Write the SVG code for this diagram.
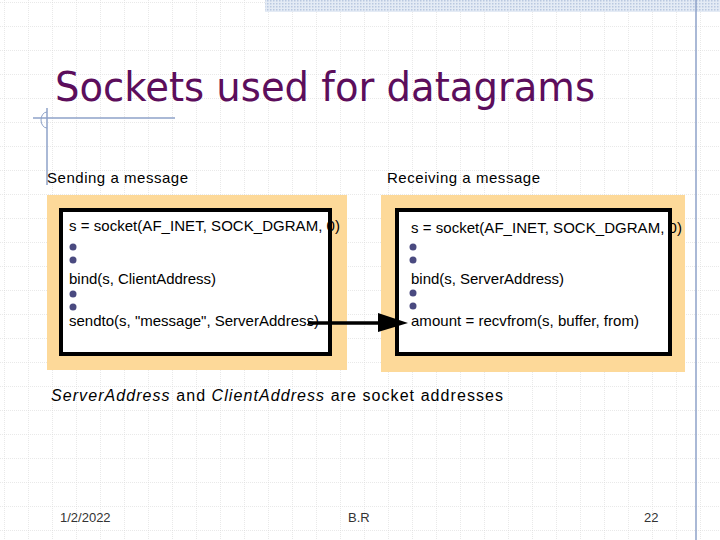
<svg xmlns="http://www.w3.org/2000/svg" width="720" height="540" viewBox="0 0 720 540">
<defs>
<pattern id="grid" width="24" height="24" patternUnits="userSpaceOnUse" x="4" y="2">
<path d="M0 0H24M0 0V24" fill="none" stroke="#d4d4d4" stroke-width="1" stroke-dasharray="1 1"/>
</pattern>
<pattern id="hatch" width="3" height="3" patternUnits="userSpaceOnUse">
<rect width="3" height="3" fill="#e4ebf5"/><rect width="1.5" height="1.5" fill="#b9c8e0"/>
</pattern>
<style>
.t{font-family:"Liberation Sans",Arial,sans-serif;font-size:15px;fill:#000}
.f{font-family:"Liberation Sans",Arial,sans-serif;font-size:13px;fill:#333}
.o{fill:#fdd999}
.b{fill:#fff;stroke:#000;stroke-width:4}
.d{fill:#4a4a80}
</style>
</defs>
<rect width="720" height="540" fill="#fff"/>
<rect width="720" height="540" fill="url(#grid)"/>
<rect x="265" y="0" width="455" height="12" fill="url(#hatch)"/>
<line x1="696" y1="0" x2="696" y2="540" stroke="#8ea2c8" stroke-width="1.5"/>
<line x1="33" y1="118" x2="175" y2="118" stroke="#8ea2c8" stroke-width="1.5"/>
<line x1="47" y1="108" x2="47" y2="185" stroke="#8ea2c8" stroke-width="1.5"/>
<path d="M47 112a6 8 0 1 0 0 16" fill="none" stroke="#8ea2c8"/>
<text x="55" y="101" font-family="'DejaVu Sans',Verdana,sans-serif" font-size="40" fill="#5c0e5c" textLength="540" lengthAdjust="spacingAndGlyphs">Sockets used for datagrams</text>
<text class="t" x="47" y="183" textLength="141">Sending a message</text>
<text class="t" x="387" y="183" textLength="153">Receiving a message</text>
<g id="sender">
<rect class="o" x="47" y="195" width="300" height="175"/>
<rect class="b" x="61" y="210" width="269" height="144"/>
<text class="t" x="69" y="231" textLength="271">s = socket(AF_INET, SOCK_DGRAM, 0)</text>
<circle class="d" cx="73" cy="247" r="3.5"/><circle class="d" cx="73" cy="260" r="3.5"/>
<text class="t" x="69" y="284" textLength="147">bind(s, ClientAddress)</text>
<circle class="d" cx="73" cy="294" r="3.5"/><circle class="d" cx="73" cy="307" r="3.5"/>
<text class="t" x="69" y="326" textLength="250">sendto(s, "message", ServerAddress)</text>
</g>
<g id="receiver">
<rect class="o" x="381" y="195" width="304" height="177"/>
<rect class="b" x="397" y="210" width="273" height="144"/>
<text class="t" x="411" y="233" textLength="271">s = socket(AF_INET, SOCK_DGRAM, 0)</text>
<circle class="d" cx="413" cy="247" r="3.5"/><circle class="d" cx="413" cy="260" r="3.5"/>
<text class="t" x="411" y="284" textLength="153">bind(s, ServerAddress)</text>
<circle class="d" cx="413" cy="293" r="3.5"/><circle class="d" cx="413" cy="306" r="3.5"/>
<text class="t" x="411" y="326" textLength="228">amount = recvfrom(s, buffer, from)</text>
</g>
<g id="connectors">
<line x1="308" y1="323" x2="380" y2="323" stroke="#000" stroke-width="3.5"/>
<path d="M378 313L408 323L378 332z" fill="#000"/>
</g>
<text x="51" y="401" font-family="'Liberation Sans',Arial,sans-serif" font-size="16" textLength="452"><tspan font-style="italic">ServerAddress</tspan> and <tspan font-style="italic">ClientAddress</tspan>  are socket addresses</text>
<text class="f" x="60" y="522">1/2/2022</text>
<text class="f" x="348" y="522">B.R</text>
<text class="f" x="644" y="522">22</text>
</svg>
